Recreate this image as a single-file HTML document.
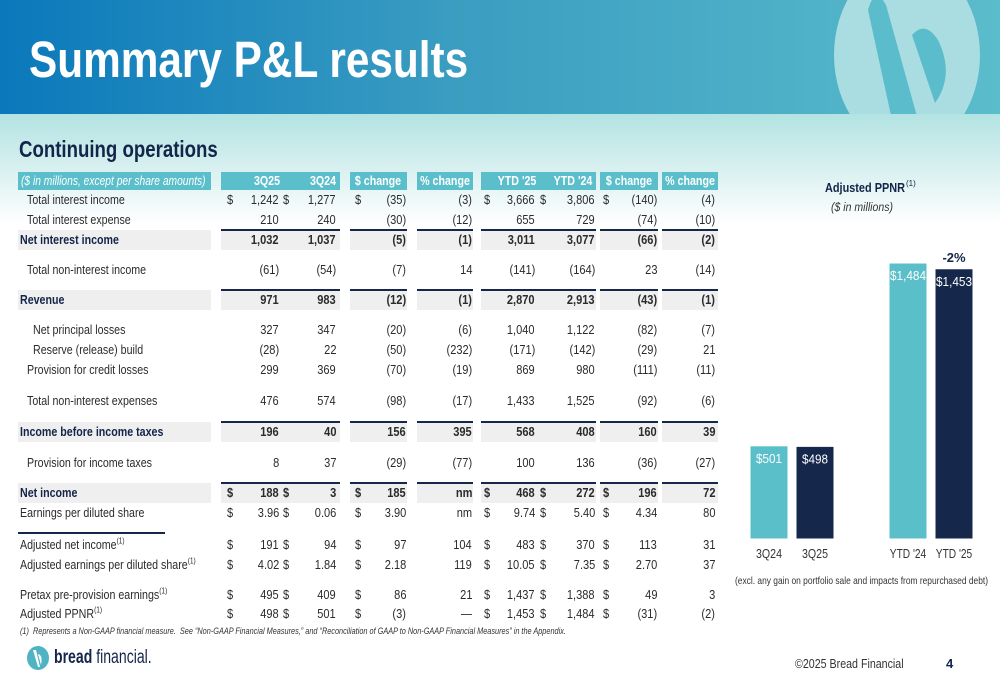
<!DOCTYPE html>
<html><head><meta charset="utf-8">
<style>
body{margin:0;width:1000px;height:685px;overflow:hidden;position:relative;background:#fff;font-family:"Liberation Sans",sans-serif;color:#2b2b2b}
.abs{position:absolute;white-space:nowrap}
#hdr{position:absolute;left:0;top:0;width:1000px;height:114px;background:linear-gradient(90deg,#0a78bb 0%,#3a9dc1 45%,#5bbccb 100%);overflow:hidden}
#sub{position:absolute;left:0;top:114px;width:1000px;height:110px;background:linear-gradient(180deg,#b2e3e2 0%,#d9f0f0 50%,#fff 100%)}
sup{line-height:0;font-size:8px}
</style></head><body>
<div id="hdr">
 <div class="abs" style="left:29px;top:30px;font-size:51px;font-weight:bold;color:#fff;line-height:60px;transform:scaleX(.83);transform-origin:left">Summary P&amp;L results</div>
 <svg class="abs" style="left:820px;top:-20px" width="180" height="140">
  <ellipse cx="87" cy="75" rx="73" ry="95" fill="#a9dde2"/>
  <path d="M48 30 Q55 5 66 25 L98 140 L72 140 Z" fill="#5bbccb"/>
  <path d="M92 55 Q105 40 118 60 Q135 95 115 123 Z" fill="#5bbccb"/>
 </svg>
</div>
<div id="sub"></div>
<div class="abs" style="left:19px;top:136px;font-size:23px;font-weight:bold;color:#14254a;transform:scaleX(.81);transform-origin:left">Continuing operations</div>

<div id="table"></div>

<div class="abs" style="left:20px;top:626px;font-size:9.5px;font-style:italic;color:#333;transform:scaleX(.77);transform-origin:left">(1)&nbsp; Represents a Non-GAAP financial measure.&nbsp; See “Non-GAAP Financial Measures,” and “Reconciliation of GAAP to Non-GAAP Financial Measures” in the Appendix.</div>
<div class="abs" style="left:26px;top:645px;height:26px">
 <svg width="24" height="26" style="vertical-align:middle"><ellipse cx="12" cy="13" rx="11" ry="12" fill="#4fb3c4"/><path d="M7 5 L12 22 L14 22 L10 5Z M12 9 Q17 10 15 20 Z" fill="#fff"/></svg>
 <span style="display:inline-block;font-size:19px;color:#14254a;vertical-align:middle;transform:scaleX(.74);transform-origin:left"><b>bread</b> financial.</span>
</div>
<div class="abs" style="left:795px;top:656px;font-size:13px;color:#333;transform:scaleX(.82);transform-origin:left">©2025 Bread Financial</div>
<div class="abs" style="left:946px;top:656px;font-size:13px;font-weight:bold;color:#14254a">4</div>

<svg class="abs" id="chart" style="left:730px;top:170px" width="270" height="430">
 <text x="135" y="22" text-anchor="middle" font-size="13" font-weight="bold" fill="#14254a" textLength="80" lengthAdjust="spacingAndGlyphs">Adjusted PPNR</text>
 <text x="176" y="16" font-size="8" fill="#14254a">(1)</text>
 <text x="132" y="41" text-anchor="middle" font-size="12" font-style="italic" fill="#333" textLength="62" lengthAdjust="spacingAndGlyphs">($ in millions)</text>
 <g id="bars"></g>
 <text x="5" y="414" font-size="10.5" fill="#333" textLength="253" lengthAdjust="spacingAndGlyphs">(excl. any gain on portfolio sale and impacts from repurchased debt)</text>
</svg>

<script>
// ---- chart data ----
const categories=["3Q24","3Q25","YTD '24","YTD '25"];
const ppnrValues=[501,498,1484,1453];
const valueLabels=["$501","$498","$1,484","$1,453"];
const changeLabel="-2%";
(function(){
 const g=document.getElementById('bars');
 const NS="http://www.w3.org/2000/svg";
 const base=369, scale=276/1484;
 const y=v=>base-v*scale;
 const xs=i=>20+i*46+(i>=2?47:0);
 const w=38;
 categories.forEach((c,i)=>{
  const r=document.createElementNS(NS,'rect');
  
  
  r.setAttribute('x',xs(i));r.setAttribute('y',y(ppnrValues[i]));r.setAttribute('width',w);r.setAttribute('height',base-y(ppnrValues[i]));
  r.setAttribute('fill',i%2?'#15284b':'#5bbfca');r.setAttribute('stroke','#fff');
  g.appendChild(r);
  const t=document.createElementNS(NS,'text');
  
  
  t.setAttribute('x',xs(i)+w/2);t.setAttribute('y',y(ppnrValues[i])+17);t.setAttribute('text-anchor','middle');
  t.setAttribute('font-size','13');t.setAttribute('fill','#fff');
  t.setAttribute('textLength',valueLabels[i].length*(valueLabels[i].length<5?6.5:6));t.setAttribute('lengthAdjust','spacingAndGlyphs');
  t.textContent=valueLabels[i];g.appendChild(t);
  const a=document.createElementNS(NS,'text');
  
  
  a.setAttribute('x',xs(i)+w/2);a.setAttribute('y',base+19);a.setAttribute('text-anchor','middle');
  a.setAttribute('font-size','13');a.setAttribute('fill','#333');
  a.setAttribute('textLength',c.length*(c.length<5?6.5:5.2));a.setAttribute('lengthAdjust','spacingAndGlyphs');
  a.textContent=c;g.appendChild(a);
 });
 const ch=document.createElementNS(NS,'text');
 
 
 ch.setAttribute('x',xs(3)+w/2);ch.setAttribute('y',y(ppnrValues[3])-7);ch.setAttribute('text-anchor','middle');
 ch.setAttribute('font-size','13');ch.setAttribute('font-weight','bold');ch.setAttribute('fill','#14254a');ch.textContent=changeLabel;g.appendChild(ch);
})();

// ---- table ----
const groups=[[221,340],[350,407],[417,473],[481,596],[600,658],[662,718]];
const headers=["3Q25","3Q24","$ change","% change","YTD '25","YTD '24","$ change","% change"];
const headX=[267,323,378,445,517,573,629,690];
const dollarX=[227,283,355,null,484,540,603,null];
const rightX=[279,336,406,472,535,595,657,715];
// label, indent, bold, hasDollar, y, values
const rows=[
 ["Total interest income",27,0,1,200,["1,242","1,277","(35)","(3)","3,666","3,806","(140)","(4)"]],
 ["Total interest expense",27,0,0,220,["210","240","(30)","(12)","655","729","(74)","(10)"]],
 ["Net interest income",20,1,0,240,["1,032","1,037","(5)","(1)","3,011","3,077","(66)","(2)"]],
 ["Total non-interest income",27,0,0,270,["(61)","(54)","(7)","14","(141)","(164)","23","(14)"]],
 ["Revenue",20,1,0,300,["971","983","(12)","(1)","2,870","2,913","(43)","(1)"]],
 ["Net principal losses",33,0,0,330,["327","347","(20)","(6)","1,040","1,122","(82)","(7)"]],
 ["Reserve (release) build",33,0,0,350,["(28)","22","(50)","(232)","(171)","(142)","(29)","21"]],
 ["Provision for credit losses",27,0,0,370,["299","369","(70)","(19)","869","980","(111)","(11)"]],
 ["Total non-interest expenses",27,0,0,401,["476","574","(98)","(17)","1,433","1,525","(92)","(6)"]],
 ["Income before income taxes",20,1,0,432,["196","40","156","395","568","408","160","39"]],
 ["Provision for income taxes",27,0,0,463,["8","37","(29)","(77)","100","136","(36)","(27)"]],
 ["Net income",20,1,1,493,["188","3","185","nm","468","272","196","72"]],
 ["Earnings per diluted share",20,0,1,513,["3.96","0.06","3.90","nm","9.74","5.40","4.34","80"]],
 ["Adjusted net income",20,0,1,545,["191","94","97","104","483","370","113","31"],1],
 ["Adjusted earnings per diluted share",20,0,1,565,["4.02","1.84","2.18","119","10.05","7.35","2.70","37"],1],
 ["Pretax pre-provision earnings",20,0,1,595,["495","409","86","21","1,437","1,388","49","3"],1],
 ["Adjusted PPNR",20,0,1,614,["498","501","(3)","—","1,453","1,484","(31)","(2)"],1]
];
(function(){
 const T=document.getElementById('table');
 function div(css,txt){const d=document.createElement('div');d.style.cssText=css;if(txt!==undefined)d.innerHTML=txt;T.appendChild(d);return d;}
 let h=div('position:absolute;left:18px;top:172px;width:193px;height:18px;background:#5bbfcb');
 
 
 let ht=div('position:absolute;left:21px;top:172px;color:#fff;font-style:italic;font-size:12.5px;line-height:18px;white-space:nowrap;transform:scaleX(.82);transform-origin:left','($ in millions, except per share amounts)');
 
 
 groups.forEach(gp=>{const c=div('position:absolute;left:'+gp[0]+'px;top:172px;width:'+(gp[1]-gp[0])+'px;height:18px;background:#5bbfcb');
  
  });
 headers.forEach((t,i)=>{const c=div('position:absolute;top:172px;line-height:18px;font-size:13px;font-weight:bold;color:#fff;transform:translateX(-50%) scaleX(.82);left:'+headX[i]+'px;white-space:nowrap',t);
  
  });
 rows.forEach(r=>{
  const [lab,ind,bold,hasD,yc,vals,sup]=r;
  const top=yc-10;
  if(bold){
   const bg=div('position:absolute;left:18px;top:'+top+'px;width:700px;height:20px;background:#efefef');
   
   
   [[211,221],[340,350],[407,417],[473,481],[596,600],[658,662]].forEach(gp=>div('position:absolute;left:'+gp[0]+'px;top:'+top+'px;width:'+(gp[1]-gp[0])+'px;height:20px;background:#fff'));
   groups.forEach(gp=>{const l=div('position:absolute;left:'+gp[0]+'px;top:'+(top-1)+'px;width:'+(gp[1]-gp[0])+'px;height:2px;background:#15284b');
    
    });
  }
  const fw=bold?'bold':'normal';
  const L=div('position:absolute;white-space:nowrap;font-size:13px;line-height:20px;top:'+top+'px;left:'+ind+'px;transform:scaleX(.82);transform-origin:left;font-weight:'+fw+';color:'+(bold?'#14254a':'#2b2b2b'),lab+(sup?'<sup>(1)</sup>':''));
  
  
  vals.forEach((v,i)=>{
   const c=div('position:absolute;white-space:nowrap;font-size:13px;line-height:20px;top:'+top+'px;right:'+(1000-rightX[i])+'px;transform:scaleX(.85);transform-origin:right;font-weight:'+fw,v);
   
   
   if(hasD&&dollarX[i]!==null){
    const d=div('position:absolute;font-size:13px;line-height:20px;top:'+top+'px;left:'+dollarX[i]+'px;transform:scaleX(.85);transform-origin:left;font-weight:'+fw,'$');
    
    
   }
  });
 });
 const rule=div('position:absolute;left:18px;top:532px;width:147px;height:2px;background:#15284b');
 
 
})();
</script>
</body></html>
